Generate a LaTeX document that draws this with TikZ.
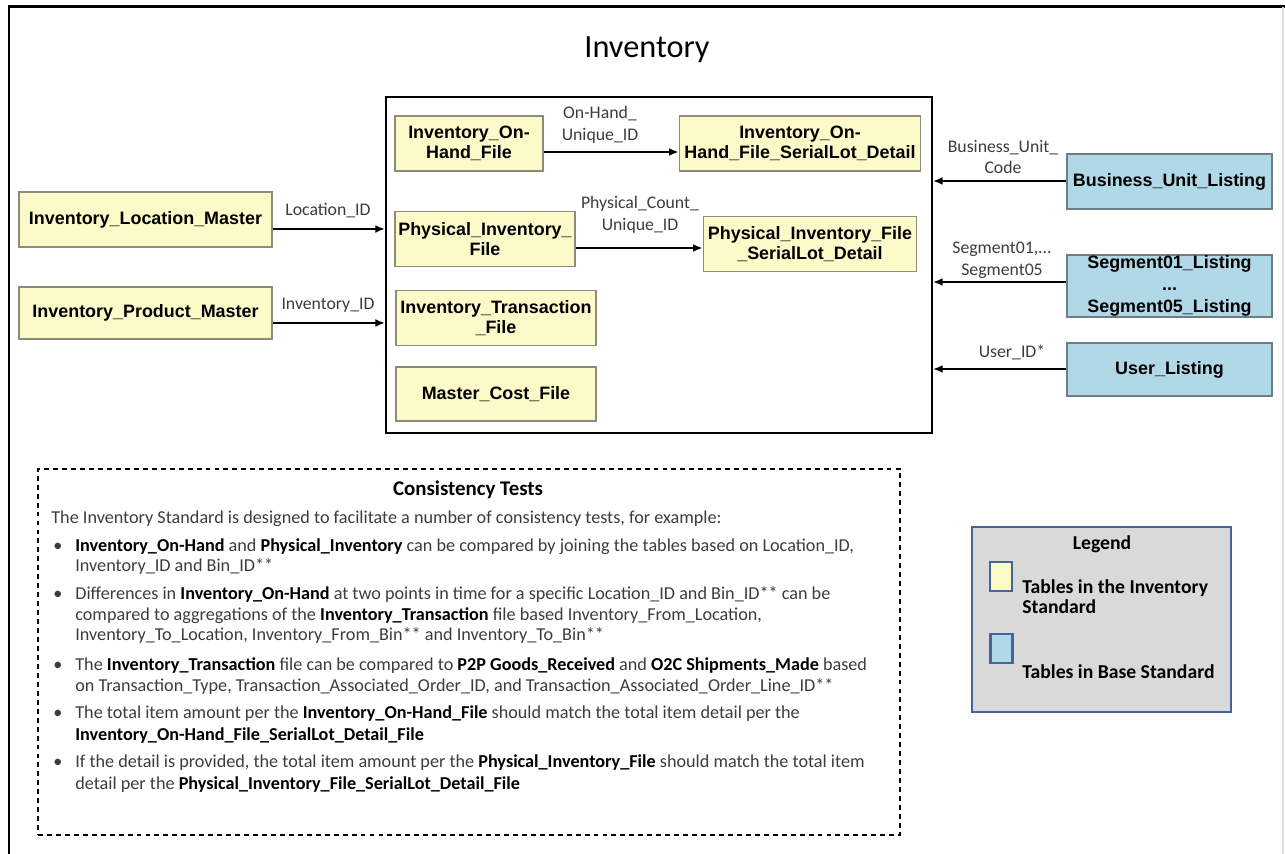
\documentclass[tikz,border=0pt]{standalone}
\usepackage{fontspec}
\setmainfont{Carlito}
\newfontfamily\boxfont{Liberation Sans}
\definecolor{invyellow}{RGB}{252,250,200}
\definecolor{invedge}{RGB}{140,140,120}
\definecolor{baseblue}{RGB}{176,216,230}
\definecolor{baseedge}{RGB}{110,125,135}
\definecolor{leggray}{RGB}{217,217,217}
\definecolor{legedge}{RGB}{70,100,150}
\definecolor{txtgray}{RGB}{60,60,60}
\newcommand{\keyname}[1]{\textbf{\color{black}#1}}
\usetikzlibrary{positioning}
\usetikzlibrary{arrows.meta}
\tikzset{boxw/.style={minimum width=#1*0.02cm}}
\tikzset{boxh/.style={minimum height=#1*0.02cm}}
\tikzset{
  tbl/.style={draw=invedge, line width=0.8pt, inner sep=0pt, align=center,
    font=\boxfont\bfseries\fontsize{10.2}{11.4}\selectfont},
  invtbl/.style={tbl, fill=invyellow},
  basetbl/.style={tbl, fill=baseblue, draw=baseedge},
  lbl/.style={align=center, inner sep=0pt, text=txtgray,
    font=\fontsize{10.1}{12.3}\selectfont},
  link/.style={-{Latex[length=5.5pt,width=4.5pt]}, line width=1.1pt},
  body/.style={anchor=base west, inner sep=0pt, text=txtgray,
    font=\fontsize{10.35}{12}\selectfont},
  legtext/.style={anchor=west, align=left, inner sep=0pt,
    font=\bfseries\fontsize{11.2}{11.4}\selectfont},
}

\begin{document}
\begin{tikzpicture}[x=0.02cm, y=-0.02cm]
  \useasboundingbox (0,0) rectangle (1285,854);

  % page frame
  \draw [line width=1.7pt] (8,7) -- (1285,7);
  \draw [line width=1.7pt] (9,7) -- (9,854);
  \draw [gray!25, line width=0.6pt] (1283,7) -- (1283,854);

  \node [font=\fontsize{18.4}{22}\selectfont] (title) at (647,50) {Inventory};

  % the inventory standard
  \node [draw, line width=1.1pt, boxw=546, boxh=336] (store) at (659,265) {};

  \node [invtbl, boxw=148, boxh=55] (onhand) at (469,143.5) {Inventory\_On-\\Hand\_File};
  \node [invtbl, boxw=241, boxh=55] (onhanddet) at (800,143.5) {Inventory\_On-\\Hand\_File\_SerialLot\_Detail};
  \node [invtbl, boxw=180, boxh=55] (physinv) at (485,239) {Physical\_Inventory\_\\File};
  \node [invtbl, boxw=213, boxh=55] (physdet) at (810,244) {Physical\_Inventory\_File\\\_SerialLot\_Detail};
  \node [invtbl, boxw=200, boxh=55] (trans) at (496,318) {Inventory\_Transaction\\\_File};
  \node [invtbl, boxw=200, boxh=54] (cost) at (496,394) {Master\_Cost\_File};

  \draw [link] (onhand.east |- 0,152) -- (onhanddet.west |- 0,152);
  \node [lbl] (lonhand) at (600,125) {On-Hand\_\\Unique\_ID};
  \draw [link] (physinv.east |- 0,248) -- (physdet.west |- 0,248);
  \node [lbl] (lphys) at (640,215) {Physical\_Count\_\\Unique\_ID};

  % masters on the left
  \node [invtbl, boxw=253, boxh=55] (locmaster) at (145.5,219.5) {Inventory\_Location\_Master};
  \node [invtbl, boxw=253, boxh=52] (prodmaster) at (145.5,313) {Inventory\_Product\_Master};

  \draw [link] (locmaster.east |- 0,229) -- (store.west |- 0,229);
  \node [lbl] (lloc) at (328,211) {Location\_ID};
  \draw [link] (prodmaster.east |- 0,323) -- (store.west |- 0,323);
  \node [lbl] (lprod) at (328,305) {Inventory\_ID};

  % base standard on the right
  \node [basetbl, boxw=205, boxh=55] (bu) at (1169.5,181.5) {Business\_Unit\_Listing};
  \node [basetbl, boxw=205, boxh=62, font=\boxfont\bfseries\fontsize{10.2}{12.4}\selectfont] (seg) at (1169.5,286) {Segment01\_Listing\\...\\Segment05\_Listing};
  \node [basetbl, boxw=205, boxh=53] (user) at (1169.5,369.5) {User\_Listing};

  \draw [link] (bu.west |- 0,181) -- (store.east |- 0,181);
  \node [lbl] (lbu) at (1003,157) {Business\_Unit\_\\Code};
  \draw [link] (seg.west |- 0,282) -- (store.east |- 0,282);
  \node [lbl] (lseg) at (1002,260) {Segment01,...\\Segment05};
  \draw [link] (user.west |- 0,369) -- (store.east |- 0,369);
  \node [lbl] (luser) at (1012,352) {User\_ID*};

  % consistency tests
  \node [draw, line width=0.8pt, dash pattern=on 2.8pt off 2.3pt, boxw=862, boxh=366] (tests) at (469,652) {};
  \node [font=\bfseries\fontsize{11.9}{14}\selectfont] (testshead) at (468,490) {Consistency Tests};

  \node [body] (t0) at (51,524) {The Inventory Standard is designed to facilitate a number of consistency tests, for example:};
  \foreach \y [count=\i] in {552,600,670,718,767}
    \node [body] (bul\i) at (53,\y) {\textbullet};
  \node [body] (t1) at (75,552) {\keyname{Inventory\_On-Hand} and \keyname{Physical\_Inventory} can be compared by joining the tables based on Location\_ID,};
  \node [body] (t2) at (75,572) {Inventory\_ID and Bin\_ID**};
  \node [body] (t3) at (75,600) {Differences in \keyname{Inventory\_On-Hand} at two points in time for a specific Location\_ID and Bin\_ID** can be};
  \node [body] (t4) at (75,621) {compared to aggregations of the \keyname{Inventory\_Transaction} file based Inventory\_From\_Location,};
  \node [body] (t5) at (75,641) {Inventory\_To\_Location, Inventory\_From\_Bin** and Inventory\_To\_Bin**};
  \node [body] (t6) at (75,670) {The \keyname{Inventory\_Transaction} file can be compared to \keyname{P2P Goods\_Received} and \keyname{O2C Shipments\_Made} based};
  \node [body] (t7) at (75,691) {on Transaction\_Type, Transaction\_Associated\_Order\_ID, and Transaction\_Associated\_Order\_Line\_ID**};
  \node [body] (t8) at (75,718) {The total item amount per the \keyname{Inventory\_On-Hand\_File} should match the total item detail per the};
  \node [body] (t9) at (75,740) {\keyname{Inventory\_On-Hand\_File\_SerialLot\_Detail\_File}};
  \node [body] (t10) at (75,767) {If the detail is provided, the total item amount per the \keyname{Physical\_Inventory\_File} should match the total item};
  \node [body] (t11) at (75,789) {detail per the \keyname{Physical\_Inventory\_File\_SerialLot\_Detail\_File}};

  % legend
  \node [draw=legedge, fill=leggray, line width=1.6pt, boxw=259, boxh=185] (legend) at (1101.5,619.5) {};
  \node [font=\bfseries\fontsize{11.2}{13}\selectfont] (leghead) at (1102,544) {Legend};
  \node [draw=legedge, fill=invyellow, line width=1.3pt, boxw=22, boxh=29] (sw1) at (1001,576.5) {};
  \node [legtext] (lt1) at (1022,597) {Tables in the Inventory\\Standard};
  \node [draw=legedge, fill=baseblue, line width=1.3pt, boxw=22, boxh=29] (sw2) at (1001.5,648.5) {};
  \node [legtext] (lt2) at (1022,672) {Tables in Base Standard};
\end{tikzpicture}
\end{document}
